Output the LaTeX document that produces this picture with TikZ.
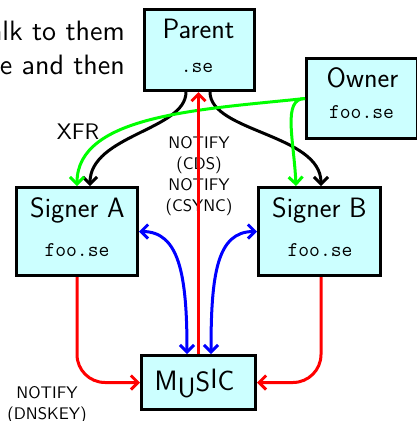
\documentclass[tikz,border=0pt]{standalone}
\usetikzlibrary{arrows.meta}
\definecolor{boxfill}{RGB}{204,255,255}
% sans text set at 10pt and blown up, so the letter shapes stay those of the 10pt design
\newcommand\bigsans[2]{\scalebox{#1}{\fontsize{10}{12}\selectfont\sffamily #2}}
\newcommand\notelines[2]{\scalebox{1.68}{\fontsize{10}{12.5}\selectfont\sffamily\begin{tabular}[t]{@{}c@{}}#1\\#2\end{tabular}}}
\tikzset{
  box/.style={draw=black, line width=3pt, fill=boxfill, rectangle, inner sep=0pt},
  boxname/.style={font=\fontsize{28}{34}\selectfont\sffamily, anchor=base, inner sep=0pt},
  zone/.style={font=\fontsize{21}{25}\selectfont\ttfamily, anchor=base, inner sep=0pt},
  note/.style={anchor=base, inner sep=0pt},
  link/.style={line width=3pt, -{Straight Barb[length=7pt,width=14pt]}},
  both/.style={line width=3pt, {Straight Barb[length=7pt,width=14pt]}-{Straight Barb[length=7pt,width=14pt]}},
}
\begin{document}
\begin{tikzpicture}[x=1pt,y=1pt]
\path[use as bounding box] (0,0) rectangle (417,-421);
\clip (0,0) rectangle (417,-421);

% slide text running in from the left
\node[anchor=base east, inner sep=0pt] (line1) at (125,-40) {\bigsans{2.8}{alk to them}};
\node[anchor=base east, inner sep=0pt] (line2) at (125,-74) {\bigsans{2.8}{ue and then}};

% boxes
\node[box, minimum width=110, minimum height=81] (parent) at (199.5,-50) {};
\node[box, minimum width=111, minimum height=80] (owner) at (362,-98.5) {};
\node[box, minimum width=121, minimum height=88] (sa) at (77,-231.5) {};
\node[box, minimum width=122, minimum height=88] (sb) at (319.5,-231.5) {};
\node[box, minimum width=114, minimum height=54] (music) at (198.5,-382.5) {};

% box texts
\node[boxname] (parentname) at (198.5,-38) {Parent};
\node[zone] (parentzone) at (197,-72) {.se};
\node[boxname] (ownername) at (362.5,-87) {Owner};
\node[zone] (ownerzone) at (361.5,-118) {foo.se};
\node[boxname] (saname) at (77.5,-217) {Signer A};
\node[zone] (sazone) at (77,-256) {foo.se};
\node[boxname] (sbname) at (319.5,-217) {Signer B};
\node[zone] (sbzone) at (320,-256) {foo.se};
\node[boxname] (musicname) at (194.5,-390) {M\raisebox{-7pt}{U}\raisebox{-1pt}{S}\raisebox{2pt}{I}C};

% labels
\node[note] (xfr) at (78,-139) {\bigsans{2.25}{XFR}};
\node[note] (cds) at (199,-148) {\notelines{NOTIFY}{(CDS)}};
\node[note] (csync) at (199,-190.5) {\notelines{NOTIFY}{(CSYNC)}};
\node[note] (dnskey) at (47,-398.5) {\notelines{NOTIFY}{(DNSKEY)}};

% parent -> signers
\draw[link] ([xshift=-13.5pt]parent.south) .. controls +(0,-38) and +(0,51) .. ([xshift=13pt]sa.north);
\draw[link] ([xshift=10.5pt]parent.south) .. controls +(0,-40) and +(0,52) .. ([xshift=1.5pt]sb.north);

% owner -> signers
\draw[link, green] (owner.west) .. controls +(-105,-11) and +(0,71) .. (sa.north);
\draw[link, green] (owner.west) .. controls +(-23,0) and +(-2,46) .. ([xshift=-23.5pt]sb.north);

% music <-> signers
\draw[both, blue] ([xshift=-11.5pt]music.north) .. controls +(0,80) and +(40,0) .. (sa.east);
\draw[both, blue] ([xshift=12.5pt]music.north) .. controls +(0,80) and +(-40,0) .. (sb.west);

% notifications
\draw[link, red] (music.north) -- (music.north |- parent.south);
\draw[link, red, rounded corners=28pt] (sa.south) |- (music.west);
\draw[link, red, rounded corners=28pt] ([xshift=1.5pt]sb.south) |- (music.east);
\end{tikzpicture}
\end{document}
